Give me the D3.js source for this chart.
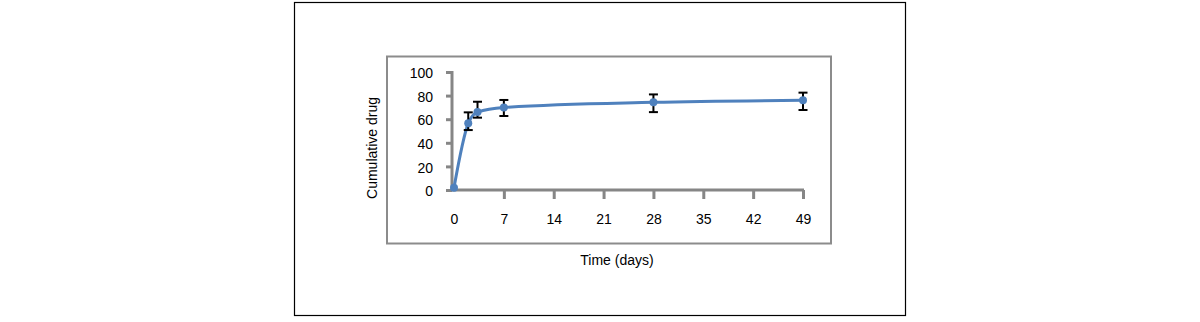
<!DOCTYPE html>
<html><head><meta charset="utf-8">
<script src="https://cdn.jsdelivr.net/npm/d3@7/dist/d3.min.js"></script>
<style>
html,body{margin:0;padding:0;background:#fff;}
text{font-family:"Liberation Sans",Arial,sans-serif;fill:#000;}
</style></head>
<body>
<svg id="c" width="1200" height="322"></svg>
<script>
const days = [0, 2, 3.3, 7, 28, 49];
const release = [2, 56.5, 66, 70, 74.3, 76];
const errUpper = [2, 65.8, 74.8, 76.3, 81, 82.5];
const errLower = [2, 50.8, 61.3, 62.7, 66, 67.8];
const xTicks = [0, 7, 14, 21, 28, 35, 42, 49];
const yTicks = [0, 20, 40, 60, 80, 100];
const xTitle = "Time (days)";
const yTitle = "Cumulative drug";

const svg = d3.select("#c");
const FS = 14;
// outer frame
svg.append("rect").attr("x",294.5).attr("y",2.5).attr("width",611).attr("height",313)
  .attr("fill","none").attr("stroke","#000").attr("stroke-width",1.2);
// inner frame
svg.append("rect").attr("x",387).attr("y",56.5).attr("width",444).attr("height",187)
  .attr("fill","none").attr("stroke","#8c8c8c").attr("stroke-width",2);

const x = d3.scaleLinear().domain([0,49]).range([454,803]);
const y = d3.scaleLinear().domain([0,100]).range([190,72]);
const gray = "#868686";

// y axis
const yAx = svg.append("g").attr("transform","translate(452,0)")
  .call(d3.axisLeft(y).tickValues(yTicks).tickSize(6).tickPadding(13));
yAx.select(".domain").attr("stroke",gray).attr("stroke-width",3).attr("d","M0,"+(y(0)+1)+"V"+(y(100)-1));
yAx.selectAll(".tick line").attr("stroke",gray).attr("stroke-width",3);
yAx.selectAll(".tick text").attr("font-size",FS).attr("font-family","Liberation Sans, Arial, sans-serif").attr("dy","0.4em");

// x axis
const xAx = svg.append("g").attr("transform","translate(0,190)")
  .call(d3.axisBottom(x).tickValues(xTicks).tickSize(9).tickPadding(15));
xAx.select(".domain").attr("stroke",gray).attr("stroke-width",3).attr("d","M"+(x(0)-3)+",0H"+(x(49)+1));
xAx.selectAll(".tick line").attr("stroke",gray).attr("stroke-width",3);
xAx.selectAll(".tick").filter(d=>d===0).select("line").remove();
xAx.selectAll(".tick text").attr("font-size",FS).attr("font-family","Liberation Sans, Arial, sans-serif");

// titles
svg.append("text").attr("x",617).attr("y",265).attr("text-anchor","middle").attr("font-size",FS).text(xTitle);
svg.append("text").attr("transform","translate(377,148) rotate(-90)").attr("text-anchor","middle").attr("font-size",FS).text(yTitle);

// line
const pts = days.map((d,i)=>({d, v:release[i], hi:errUpper[i], lo:errLower[i]}));
svg.append("path").datum(pts)
  .attr("d", d3.line().x(p=>x(p.d)).y(p=>y(p.v)).curve(d3.curveMonotoneX))
  .attr("fill","none").attr("stroke","#4f81bd").attr("stroke-width",3);

// error bars
const eb = svg.append("g").attr("stroke","#000").attr("stroke-width",2);
pts.filter(p=>p.hi!==p.lo).forEach(p=>{
  eb.append("line").attr("x1",x(p.d)).attr("x2",x(p.d)).attr("y1",y(p.hi)).attr("y2",y(p.lo));
  eb.append("line").attr("x1",x(p.d)-4.5).attr("x2",x(p.d)+4.5).attr("y1",y(p.hi)).attr("y2",y(p.hi));
  eb.append("line").attr("x1",x(p.d)-4.5).attr("x2",x(p.d)+4.5).attr("y1",y(p.lo)).attr("y2",y(p.lo));
});

// markers
svg.append("g").selectAll("circle").data(pts).join("circle")
  .attr("cx",p=>x(p.d)).attr("cy",p=>y(p.v)).attr("r",4).attr("fill","#4f81bd");
</script>
</body></html>
